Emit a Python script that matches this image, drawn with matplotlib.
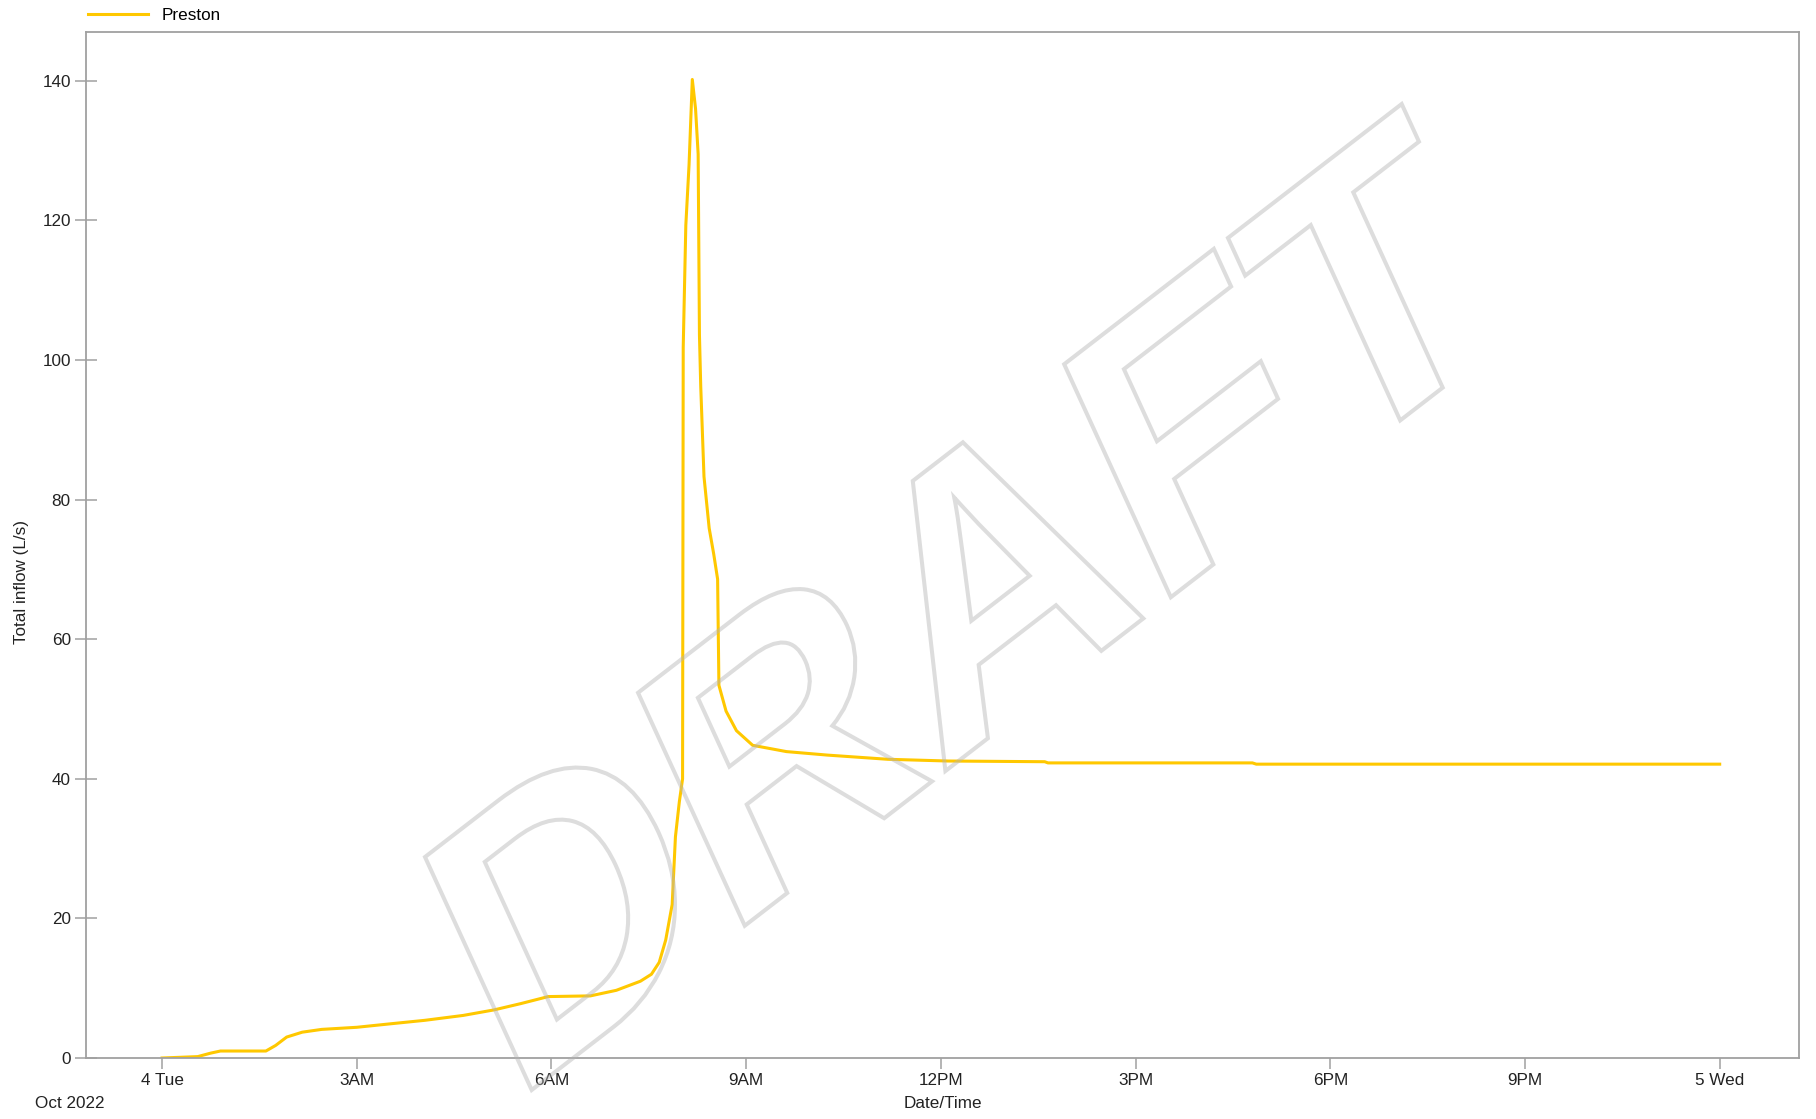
import numpy as np
import matplotlib
matplotlib.use("Agg")
import matplotlib.pyplot as plt
from matplotlib.textpath import TextPath
from matplotlib.font_manager import FontProperties
from matplotlib.patches import PathPatch
from matplotlib.path import Path

# hours after midnight, 4 Oct 2022 -> total inflow (L/s)
hours = [0.0, 0.55, 0.75, 0.9, 1.6, 1.75, 1.92, 2.16, 2.46, 3.0, 3.52, 4.05,
         4.64, 5.12, 5.53, 5.95, 6.6, 7.0, 7.37, 7.54, 7.66, 7.76, 7.86, 7.91,
         7.97, 8.02, 8.03, 8.07, 8.12, 8.17, 8.22, 8.26, 8.28, 8.30, 8.35, 8.43,
         8.50, 8.56, 8.58, 8.69, 8.85, 9.1, 9.62, 10.25, 11.18, 12.11, 13.6,
         13.65, 16.8, 16.86, 24.0]
inflow = [0.0, 0.2, 0.7, 1.0, 1.0, 1.8, 3.0, 3.7, 4.1, 4.4, 4.9, 5.4,
          6.1, 6.9, 7.8, 8.8, 8.9, 9.7, 11.0, 12.0, 13.7, 16.9, 22.0, 31.7,
          36.7, 40.0, 101.8, 119.3, 128.0, 140.2, 136.0, 129.5, 103.6, 96.2, 83.3, 75.9,
          72.2, 68.6, 53.4, 49.7, 46.9, 44.8, 43.9, 43.4, 42.8, 42.55, 42.45,
          42.28, 42.28, 42.1, 42.1]
series_name = "Preston"

tick_hours = [0, 3, 6, 9, 12, 15, 18, 21, 24]
tick_labels = ["4 Tue", "3AM", "6AM", "9AM", "12PM", "3PM", "6PM", "9PM", "5 Wed"]
y_ticks = [0, 20, 40, 60, 80, 100, 120, 140]

W, H = 1816, 1119
plt.rcParams['font.family'] = ['Liberation Sans', 'DejaVu Sans']
fs = 12.3
txt = '#222222'
grey = '#a0a0a0'

fig = plt.figure(figsize=(W / 100, H / 100), dpi=100)
ax = fig.add_axes([86 / W, 1 - 1058 / H, (1799 - 86) / W, (1058 - 32) / H])

line, = ax.plot(hours, inflow, color='#ffc800', lw=2.2, label=series_name,
                solid_joinstyle='round')

ax.set_xlim(-1.172, 25.222)
ax.set_ylim(0, 147)
ax.set_xticks(tick_hours)
ax.set_xticklabels(tick_labels)
ax.set_yticks(y_ticks)

for s in ax.spines.values():
    s.set_color(grey)
    s.set_linewidth(1.3)
ax.tick_params(axis='y', direction='inout', length=15.8, width=1.1, color=grey,
               pad=3, labelsize=fs, labelcolor=txt)
ax.tick_params(axis='x', direction='out', length=7.9, width=1.1, color=grey,
               pad=3, labelsize=fs, labelcolor=txt)

# legend above the plot, top left
ax.legend(handles=[line], loc='center left', bbox_to_anchor=(88 / W, 1 - 15 / H),
          bbox_transform=fig.transFigure, frameon=False, fontsize=fs,
          handlelength=3.5, handletextpad=0.8, borderpad=0, borderaxespad=0)

fig.text(21.7 / W, 1 - 582 / H, "Total inflow (L/s)", rotation=90,
         ha='center', va='center', fontsize=fs, color=txt)
fig.text(942.5 / W, 1 - 1103 / H, "Date/Time", ha='center', va='center',
         fontsize=fs, color=txt)
fig.text(35 / W, 1 - 1103 / H, "Oct 2022", ha='left', va='center',
         fontsize=fs, color=txt)

# DRAFT watermark: outlined, rotated and skewed
tp = TextPath((0, 0), "DRAFT", size=1,
              prop=FontProperties(family="Liberation Sans", weight="bold"))
ext = tp.get_extents()
xs = (tp.vertices[:, 0] - ext.x0) / ext.width
ys = tp.vertices[:, 1] / ext.y1
px = 531.7 + xs * 976.7 - ys * 106.7
py = 1090 - xs * 753 - ys * 233
verts = np.column_stack([px / W, 1 - py / H])
wm = PathPatch(Path(verts, tp.codes), transform=fig.transFigure, fc='none',
               ec='#b4b4b4', alpha=0.45, lw=2.9, zorder=10)
fig.add_artist(wm)

fig.savefig("out.png", dpi=100)
